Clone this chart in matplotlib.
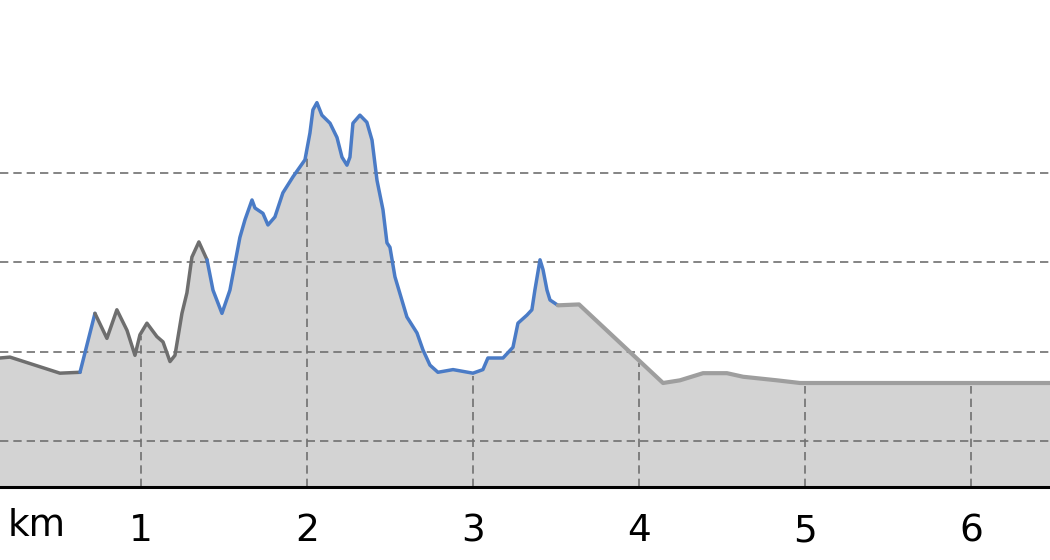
import numpy as np
import matplotlib
matplotlib.use("Agg")
import matplotlib.pyplot as plt

# Elevation profile (distance in km, elevation in m)
dist_km = [0.151, 0.211, 0.512, 0.633, 0.723, 0.795, 0.855, 0.916, 0.964, 0.994,
           1.036, 1.096, 1.133, 1.175, 1.205, 1.247, 1.277, 1.307, 1.349, 1.398,
           1.434, 1.488, 1.536, 1.596, 1.627, 1.669, 1.687, 1.735, 1.765, 1.807,
           1.855, 1.916, 1.988, 2.018, 2.036, 2.060, 2.090, 2.139, 2.181, 2.211,
           2.241, 2.259, 2.277, 2.319, 2.361, 2.392, 2.422, 2.458, 2.482, 2.500,
           2.530, 2.602, 2.663, 2.699, 2.741, 2.789, 2.880, 3.000, 3.060, 3.090,
           3.181, 3.241, 3.271, 3.325, 3.355, 3.373, 3.404, 3.422, 3.446, 3.464,
           3.512, 3.639, 4.145, 4.247, 4.386, 4.530, 4.627, 4.831, 4.970, 6.476]
elev_m = [19.3, 19.4, 17.6, 17.7, 24.3, 21.5, 24.7, 22.4, 19.6, 21.9,
          23.2, 21.7, 21.1, 18.9, 19.6, 24.3, 26.6, 30.6, 32.3, 30.3,
          26.9, 24.3, 26.9, 32.8, 34.8, 37.0, 36.1, 35.5, 34.2, 35.1,
          37.8, 39.6, 41.5, 44.5, 47.1, 47.9, 46.5, 45.6, 44.0, 41.8,
          40.9, 41.8, 45.6, 46.5, 45.7, 43.7, 39.2, 35.9, 32.2, 31.7,
          28.4, 23.9, 22.1, 20.2, 18.5, 17.7, 18.0, 17.6, 18.0, 19.3,
          19.3, 20.5, 23.2, 24.1, 24.7, 26.9, 30.3, 29.2, 26.9, 25.8,
          25.2, 25.3, 16.5, 16.8, 17.6, 17.6, 17.2, 16.8, 16.5, 16.5]

# Line sections: where each starts/ends (km) and which kind it is
seg_start = [0.151, 0.633, 0.723, 1.398, 3.512]
seg_end = [0.633, 0.723, 1.398, 3.512, 6.476]
seg_kind = ["gray", "blue", "gray", "blue", "light"]

km_ticks = [1, 2, 3, 4, 5, 6]
grid_levels = [10, 20, 30, 40]

kind_color = {"gray": "#6e6e6e", "blue": "#4a7bc6", "light": "#9e9e9e"}

x = np.array(dist_km)
y = np.array(elev_m)
ymin, ymax = 4.85, 59.4

fig = plt.figure(figsize=(10.5, 5.6), dpi=100)
ax = fig.add_axes([0, 1 - 487 / 560, 1, 487 / 560])

ax.fill_between(x, y, ymin, color="#d3d3d3", lw=0, zorder=1)

# horizontal grid across, vertical grid only inside the filled area
for g in grid_levels:
    ax.axhline(g, color="#707070", lw=1.2, ls=(0, (5, 3)), zorder=2)
for k in km_ticks:
    top = np.interp(k, x, y)
    ax.vlines(k, ymin, top - 0.3, color="#707070", lw=1.2, ls=(0, (5, 3)), zorder=2)

for s, e, kind in zip(seg_start, seg_end, seg_kind):
    m = (x >= s - 1e-9) & (x <= e + 1e-9)
    lw = 3.0 if kind == "light" else 2.5
    ax.plot(x[m], y[m], color=kind_color[kind], lw=lw, zorder=3,
            solid_joinstyle="round", solid_capstyle="round")

ax.set_xlim(0.151, 6.476)
ax.set_ylim(ymin, ymax)
ax.set_xticks(km_ticks)
ax.set_xticklabels([str(k) for k in km_ticks], fontsize=27)
ax.set_yticks([])
ax.tick_params(axis="x", length=0, pad=19)
for side in ["top", "left", "right"]:
    ax.spines[side].set_visible(False)
ax.spines["bottom"].set_linewidth(2.2)
ax.spines["bottom"].set_zorder(4)

fig.text(8 / 1050, 1 - 526 / 560, "km", fontsize=27, ha="left", va="center")

fig.savefig("out.png", dpi=100)
